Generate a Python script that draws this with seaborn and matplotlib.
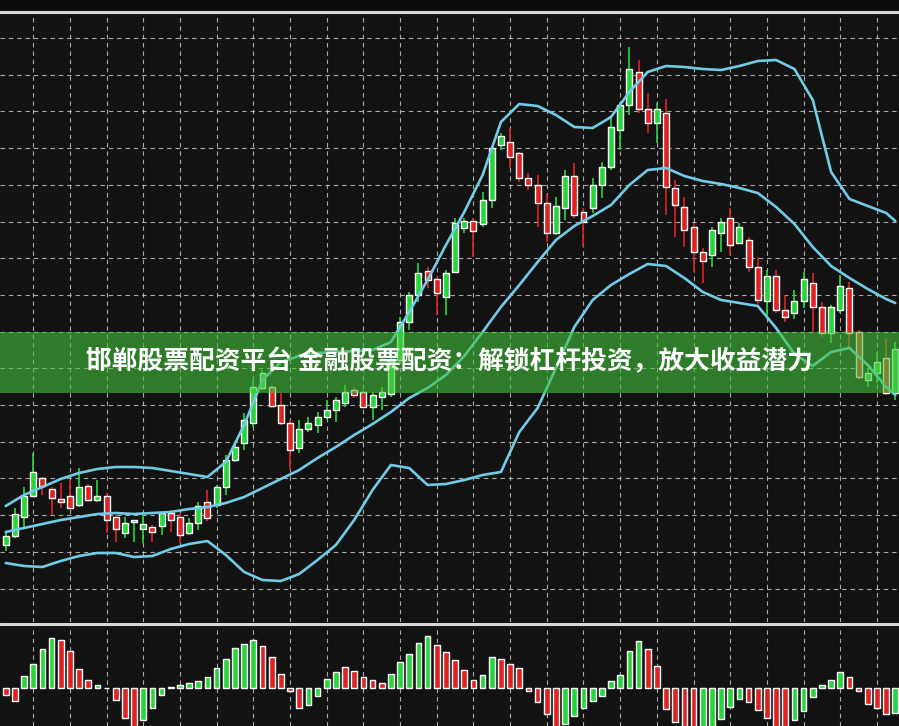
import numpy as np
import pandas as pd
import matplotlib.pyplot as plt
from matplotlib.lines import Line2D
from matplotlib.patches import Rectangle
import seaborn as sns

# candle data (index, open, high, low, close)
opens = [95, 104, 123, 144, 162, 151, 141, 144, 135, 154, 140, 144, 123, 107, 118, 111, 113, 114, 127, 123,
         107, 117, 138, 135, 153, 180, 197, 217, 252, 253, 235, 217, 192, 211, 215, 223, 230, 237, 250, 248,
         233, 243, 246, 280, 318, 345, 369, 361, 343, 368, 412, 419, 416, 440, 495, 498, 487, 462, 455, 437,
         407, 432, 464, 428, 432, 455, 473, 510, 535, 568, 531, 517, 527, 452, 433, 413, 388, 385, 407, 422,
         397, 400, 373, 339, 364, 330, 327, 339, 357, 333, 307, 330, 352, 308, 260, 267, 282, 247]
highs = [107, 132, 153, 187, 163, 153, 157, 160, 172, 156, 160, 147, 125, 123, 120, 125, 115, 128, 130, 127,
         122, 138, 150, 155, 185, 197, 227, 260, 270, 255, 247, 220, 220, 223, 228, 240, 243, 255, 253, 250,
         248, 253, 283, 323, 348, 377, 373, 363, 370, 422, 422, 422, 448, 494, 507, 512, 488, 467, 465, 446,
         443, 470, 477, 432, 462, 478, 523, 538, 593, 580, 547, 537, 541, 460, 443, 417, 392, 413, 422, 432,
         417, 403, 383, 370, 370, 345, 350, 368, 367, 338, 335, 365, 358, 310, 272, 287, 302, 298]
lows = [89, 102, 111, 143, 145, 125, 132, 130, 133, 138, 138, 107, 98, 102, 98, 97, 98, 105, 108, 97,
        105, 110, 119, 132, 145, 178, 190, 213, 250, 232, 215, 170, 187, 208, 207, 220, 218, 233, 242, 232,
        220, 230, 243, 278, 310, 338, 352, 325, 325, 367, 407, 383, 413, 432, 490, 472, 458, 450, 413, 398,
        405, 420, 422, 393, 427, 442, 470, 490, 525, 527, 507, 497, 425, 403, 393, 368, 357, 373, 388, 385,
        397, 368, 335, 323, 327, 318, 321, 332, 307, 303, 297, 327, 293, 260, 253, 257, 245, 240]
closes = [104, 126, 144, 168, 154, 142, 138, 132, 153, 140, 144, 120, 111, 117, 120, 116, 108, 127, 120, 105,
          117, 134, 122, 153, 180, 193, 220, 253, 267, 234, 217, 190, 211, 217, 223, 230, 240, 248, 245, 233,
          245, 248, 280, 318, 345, 367, 360, 347, 367, 417, 419, 409, 440, 492, 504, 483, 462, 455, 437, 407,
          434, 464, 425, 418, 455, 473, 513, 535, 571, 531, 517, 531, 453, 435, 410, 388, 379, 410, 418, 395,
          413, 373, 340, 364, 330, 323, 339, 361, 333, 307, 333, 354, 307, 263, 267, 278, 247, 291]

# bollinger bands read at every second candle
band_idx = list(range(0, 97, 2)) + [97]
upper = [134, 145, 153, 161, 167, 171, 173, 173, 172, 169, 166, 163, 178, 215, 260, 278, 284, 287, 288, 289,
         290, 298, 328, 360, 395, 428, 465, 518, 536, 534, 525, 513, 512, 523, 548, 568, 574, 573, 571, 570,
         574, 579, 580, 571, 540, 468, 441, 434, 427, 419]
middle = [108, 112, 116, 120, 123, 126, 127, 126, 127, 128, 131, 133, 137, 143, 152, 161, 170, 182, 193, 205,
          216, 228, 242, 252, 265, 284, 308, 333, 355, 378, 400, 414, 424, 435, 455, 470, 472, 464, 459, 456,
          452, 447, 433, 416, 393, 374, 362, 351, 341, 337]
lower = [77, 74, 73, 79, 84, 87, 87, 83, 84, 91, 96, 99, 85, 68, 60, 59, 66, 80, 95, 120,
         150, 175, 172, 155, 156, 160, 165, 168, 208, 232, 272, 313, 340, 355, 366, 376, 374, 362, 348, 340,
         337, 334, 312, 286, 274, 288, 292, 275, 253, 245]

# oscillator histogram
hist_vals = [-20, -40, 35, 72, 118, 150, 143, 110, 57, 25, 8, 0, -35, -90, -130, -97, -60, -22, 3, 8,
             15, 22, 32, 60, 87, 120, 132, 145, 125, 93, 43, -10, -60, -52, -25, 28, 47, 63, 50, 33,
             25, 15, 42, 77, 103, 135, 155, 128, 108, 83, 53, 25, 40, 92, 86, 72, 60, -8, -43, -78,
             -130, -108, -85, -60, -40, -25, 20, 40, 112, 140, 118, 65, -62, -103, -130, -130, -130, -130, -92, -58,
             -33, -42, -65, -90, -125, -125, -95, -68, -28, 8, 25, 48, 32, -10, -48, -60, -78, -75]
hist_dir = list("rrggggrrrr" "grrrrggggg" "ggggggggrr" "rrrggggrrr" "rrgggggrrr"
                "rrggrrrrrr" "rggggggggg" "rrrrrrgggg" "grrrrrgggg" "ggrrrrrg")

GREEN = "#27d63a"
RED = "#e02222"
BAND = "#72cbe6"
BG = "#121212"

sns.set_style("dark", {"axes.facecolor": BG, "figure.facecolor": "#0c0c0c"})
plt.rcParams['font.family'] = ['Noto Sans CJK SC', 'DejaVu Sans']

W, H = 899, 726
fig = plt.figure(figsize=(W / 100, H / 100), dpi=100)
ax = fig.add_axes([0, (H - 622) / H, 1, (622 - 13) / H])
axl = fig.add_axes([0, 0, 1, (H - 626) / H])

idx = np.arange(len(opens))
o = np.array(opens); c = np.array(closes)
cols = np.where(c >= o, GREEN, RED)

# candles
ax.vlines(idx, lows, highs, colors=cols, lw=1.2, zorder=2)
body = np.maximum(np.abs(c - o), 1.5)
ax.bar(idx, body, bottom=np.minimum(o, c), width=0.65, color=cols, zorder=2)

# bands
for band in (upper, middle, lower):
    sns.lineplot(x=band_idx, y=band, ax=ax, color=BAND, lw=1.9, zorder=3,
                 solid_joinstyle="round", solid_capstyle="round")

# histogram
hdf = pd.DataFrame({"idx": idx, "val": hist_vals,
                    "dir": ["up" if d == "g" else "down" for d in hist_dir]})
sns.barplot(data=hdf, x="idx", y="val", hue="dir", palette={"up": GREEN, "down": RED},
            native_scale=True, dodge=False, width=0.62, errorbar=None, saturation=1,
            legend=False, ax=axl, zorder=2)

xticks = np.arange(3, 97, 4)
for a in (ax, axl):
    a.set_xlim(-0.62, 97.4)
    a.set_xticks(xticks)
    a.set_xlabel("")
    a.set_ylabel("")
    a.tick_params(length=0, labelbottom=False, labelleft=False)
    for s in a.spines.values():
        s.set_visible(False)
    a.set_facecolor(BG)

ax.set_ylim(18, 627)
ax.set_yticks(602 - 36.7 * np.arange(16))
ax.grid(True, color="#c4c4c4", lw=0.8, ls=(0, (4, 3.5)), alpha=0.85, zorder=1)

axl.set_ylim(-114, 186)
axl.set_yticks([])
axl.grid(True, axis="x", color="#c4c4c4", lw=0.8, ls=(0, (4, 3.5)), alpha=0.85, zorder=1)
ax.set_axisbelow(True)
axl.set_axisbelow(True)

# separator lines
for ypx in (11.5, 624.0):
    fig.add_artist(Line2D([0, 1], [1 - ypx / H, 1 - ypx / H], transform=fig.transFigure,
                          color="#d8d8d8", lw=2.2, zorder=4))

# title banner
fig.add_artist(Rectangle((0, 1 - 393 / H), 1, 61 / H, transform=fig.transFigure,
                         facecolor="#42c23b", alpha=0.6, edgecolor="none", zorder=5))
fig.text(0.5, 1 - 362 / H, "邯郸股票配资平台 金融股票配资：解锁杠杆投资，放大收益潜力",
         ha="center", va="center", color="white", fontsize=18.5, fontweight="bold", zorder=6)

fig.savefig("out.png", dpi=100, facecolor=fig.get_facecolor())
